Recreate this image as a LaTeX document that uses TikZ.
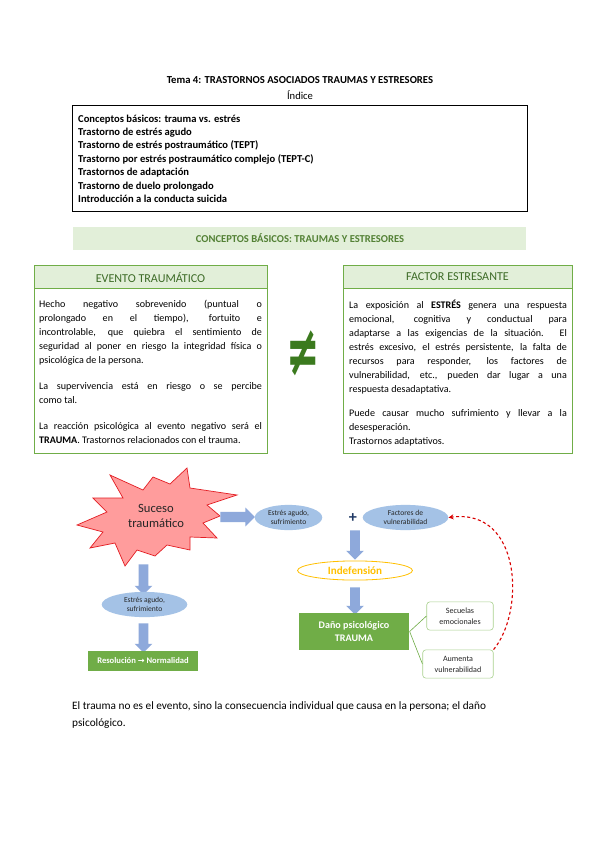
\documentclass[tikz,border=0pt]{standalone}
\usepackage{fontspec}
\setmainfont{Carlito}
\newfontfamily\dejavu{DejaVu Sans}
\usetikzlibrary{arrows.meta,shapes.geometric,shapes.arrows}
\definecolor{hdrfill}{HTML}{E2EFD9}
\definecolor{boxgreen}{HTML}{70AD47}
\definecolor{darkgreen}{HTML}{3D6B27}
\definecolor{bannertext}{HTML}{538135}
\definecolor{neqgreen}{HTML}{3B7A1E}
\definecolor{ellfill}{HTML}{A4C2E6}
\definecolor{arrowfill}{HTML}{8EA9DB}
\definecolor{starfill}{HTML}{FF9C9C}
\definecolor{starline}{HTML}{E31E24}
\definecolor{indef}{HTML}{FFC000}
\definecolor{lightgreen}{HTML}{A9D18E}
\definecolor{navy}{HTML}{1F3864}
\definecolor{txtgray}{HTML}{262626}
\tikzset{
  body/.style={inner sep=0pt, align=justify, anchor=north west, font=\fontsize{10}{13.9}\selectfont},
  hdr/.style={inner sep=0pt, text=darkgreen, font=\fontsize{12}{13}\selectfont},
  ell/.style={ellipse, fill=ellfill, draw=none, inner sep=0pt, align=center, font=\fontsize{7.5}{9}\selectfont, text=txtgray},
  blockarrow/.style={single arrow, fill=arrowfill, draw=none, inner xsep=0pt, inner ysep=5pt, minimum width=0pt, single arrow head extend=4pt, single arrow head indent=0pt},
  downarrow/.style={single arrow, shape border rotate=270, fill=arrowfill, draw=none, inner xsep=4.7pt, inner ysep=0pt, minimum width=0pt, single arrow head extend=3.8pt, single arrow head indent=0pt},
  greenrect/.style={rectangle, fill=boxgreen, draw=none, text=white, align=center, inner sep=0pt},
  sidebox/.style={rectangle, rounded corners=3, draw=lightgreen, line width=0.6, fill=white, align=center, inner sep=0pt, font=\fontsize{8}{11}\selectfont, text=txtgray, minimum height=28},
}
\begin{document}
\begin{tikzpicture}[x=0.99225pt,y=-0.99225pt]
\useasboundingbox[fill=white] (0,0) rectangle (600,848);

% title
\node[inner sep=0pt, font=\fontsize{10.6}{12}\selectfont\bfseries] (title) at (300,80) {Tema 4: TRASTORNOS ASOCIADOS TRAUMAS Y ESTRESORES};
\node[inner sep=0pt, font=\fontsize{10.5}{12}\selectfont] (indice) at (300,95) {Índice};

% index box
\draw[line width=0.9] (72,105) rectangle (527,211);
\node[inner sep=0pt, anchor=north west, align=left, font=\fontsize{10.5}{13.3}\selectfont\bfseries] (idx) at (78,114.5) {Conceptos básicos: trauma vs. estrés\\
Trastorno de estrés agudo\\
Trastorno de estrés postraumático (TEPT)\\
Trastorno por estrés postraumático complejo (TEPT-C)\\
Trastornos de adaptación\\
Trastorno de duelo prolongado\\
Introducción a la conducta suicida};

% banner
\fill[hdrfill] (73,227) rectangle (526,250);
\node[inner sep=0pt, text=bannertext, font=\fontsize{10.5}{12}\selectfont\bfseries] (banner) at (300,238.5) {CONCEPTOS BÁSICOS: TRAUMAS Y ESTRESORES};

% left box
\fill[hdrfill] (34,265) rectangle (267,288);
\draw[boxgreen, line width=0.9] (34,265) rectangle (267,453);
\draw[boxgreen, line width=0.9] (34,288) -- (267,288);
\node[hdr] (evh) at (150.5,277) {EVENTO TRAUMÁTICO};
\node[body, text width=221pt] (evb) at (39,300) {Hecho negativo sobrevenido (puntual o\linebreak
prolongado en el tiempo), fortuito e\linebreak
incontrolable, que quiebra el sentimiento de\linebreak
seguridad al poner en riesgo la integridad física o\linebreak
psicológica de la persona.\par\vspace{11.9pt}
La supervivencia está en riesgo o se percibe\linebreak
como tal.\par\vspace{11.9pt}
La reacción psicológica al evento negativo será el\linebreak
\textbf{TRAUMA}. Trastornos relacionados con el trauma.};

% right box
\fill[hdrfill] (343,265) rectangle (572,288);
\draw[boxgreen, line width=0.9] (343,265) rectangle (572,453);
\draw[boxgreen, line width=0.9] (343,288) -- (572,288);
\node[hdr] (fah) at (457.5,277) {FACTOR ESTRESANTE};
\node[body, text width=216pt] (fab) at (349,300) {La exposición al \textbf{ESTRÉS} genera una respuesta\linebreak
emocional, cognitiva y conductual para\linebreak
adaptarse a las exigencias de la situación. El\linebreak
estrés excesivo, el estrés persistente, la falta de\linebreak
recursos para responder, los factores de\linebreak
vulnerabilidad, etc., pueden dar lugar a una\linebreak
respuesta desadaptativa.\par\vspace{9.9pt}
Puede causar mucho sufrimiento y llevar a la\linebreak
desesperación.\\
Trastornos adaptativos.};

% not-equal sign
\node[inner sep=0pt, text=neqgreen] (neq) at (303.5,353.5) {\scalebox{0.62}[1.1]{\dejavu\bfseries\fontsize{64}{64}\selectfont ≠}};

% star
\draw[starline, fill=starfill, line width=0.7, line join=miter] (187,468) -- (190,488) -- (237,495) -- (207,505) -- (220,516) -- (203,523) -- (217,538) -- (190,537) -- (190,550) -- (167,545) -- (155,556) -- (137,550) -- (125,566) -- (115,543) -- (90,548) -- (103,532) -- (77,525) -- (107,512) -- (93,498) -- (123,498) -- (110,475) -- (143,490) -- (153,477) -- (170,484) -- cycle;
\node[inner sep=0pt, align=center, font=\fontsize{12.5}{15}\selectfont, text=txtgray] (star) at (156,516) {Suceso\\traumático};

% right branch
\node[blockarrow, minimum height=34] (ar1) at (235,517) {};
\node[ell, minimum width=67, minimum height=25] (e1) at (288.5,517.5) {Estrés agudo,\\sufrimiento};
\node[inner sep=0pt, text=navy, font=\fontsize{16}{16}\selectfont\bfseries] (plus) at (353,518) {+};
\node[ell, minimum width=85, minimum height=25] (fact) at (405.5,517.5) {Factores de\\vulnerabilidad};
\node[downarrow, minimum height=29] (ar2) at (355,542.5) {};
\node[ellipse, draw=indef, line width=0.8, fill=white, minimum width=114, minimum height=19, inner sep=0pt, text=indef, font=\fontsize{11}{12}\selectfont\bfseries] (indf) at (355,570.5) {Indefensión};
\node[downarrow, minimum height=27] (ar3) at (355,598.5) {};
\node[greenrect, minimum width=110, minimum height=37, font=\fontsize{10}{13}\selectfont\bfseries] (dano) at (354,631.5) {Daño psicológico\\TRAUMA};
\node[sidebox, minimum width=66] (sec) at (460,616) {Secuelas\\emocionales};
\node[sidebox, minimum width=70] (aum) at (458,664) {Aumenta\\vulnerabilidad};
\draw[boxgreen, line width=0.6] (dano.east) -- (sec.west);
\draw[boxgreen, line width=0.6] (dano.east) -- (aum.west);
\draw[red!85!black, line width=1.1, dashed, dash pattern=on 3pt off 2.5pt, -{Stealth[length=5pt,width=5pt]}] (aum.north east) .. controls (525,612) and (522,508) .. (fact.east);

% left branch
\node[downarrow, minimum height=30] (ar4) at (143.5,577) {};
\node[ell, minimum width=85, minimum height=25] (e2) at (144.5,604.5) {Estrés agudo,\\sufrimiento};
\node[downarrow, minimum height=29] (ar5) at (143.5,635.5) {};
\node[greenrect, minimum width=110, minimum height=20, font=\fontsize{8.5}{10}\selectfont\bfseries] (res) at (143,661) {Resolución {\dejavu\fontsize{8}{10}\selectfont →} Normalidad};

% bottom text
\node[inner sep=0pt, anchor=north west, align=left, font=\fontsize{11.2}{17}\selectfont] (concl) at (72,701) {El trauma no es el evento, sino la consecuencia individual que causa en la persona; el daño\\psicológico.};
\end{tikzpicture}
\end{document}
